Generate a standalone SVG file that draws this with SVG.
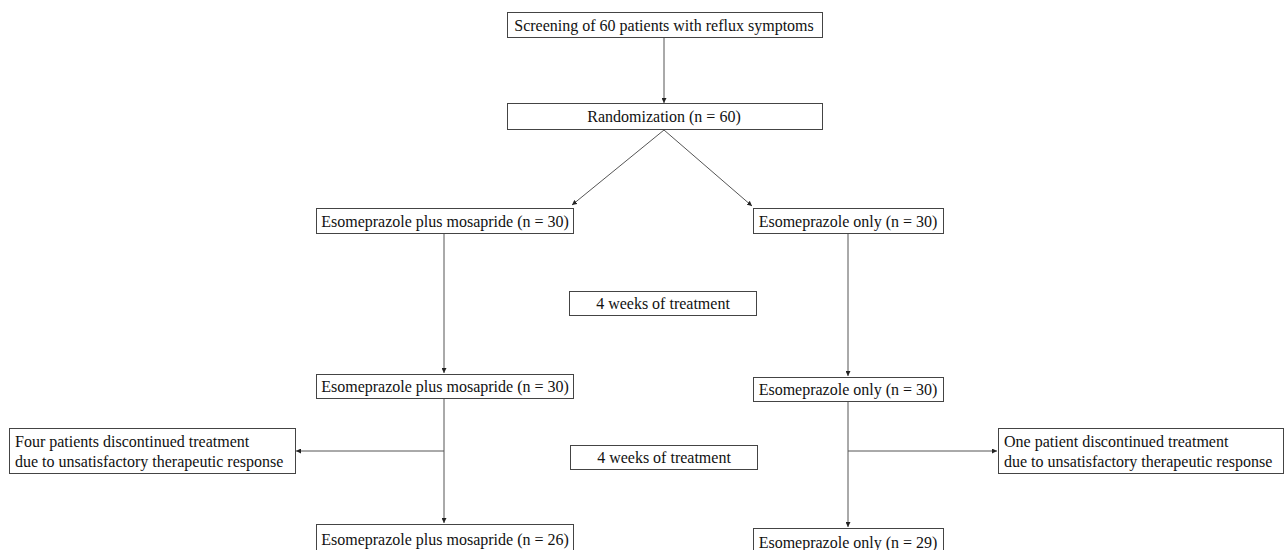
<svg xmlns="http://www.w3.org/2000/svg" width="1284" height="550" viewBox="0 0 1284 550">
<defs>
<marker id="ah" viewBox="0 0 6 6" refX="6" refY="3" markerWidth="5" markerHeight="5" orient="auto" markerUnits="userSpaceOnUse">
<path d="M0,0 L6,3 L0,6 Z" fill="#222"/>
</marker>
<style>
.box{fill:#fff;stroke:#444;stroke-width:1}
.t{font-family:"Liberation Serif","Times New Roman",serif;font-size:16px;fill:#111}
.c{text-anchor:middle}
.ln{stroke:#555;stroke-width:1;fill:none;marker-end:url(#ah)}
</style>
</defs>
<rect width="1284" height="550" fill="#fff"/>
<g id="connectors">
<line class="ln" x1="664" y1="37" x2="664" y2="103"/>
<line class="ln" x1="664" y1="130" x2="572" y2="205"/>
<line class="ln" x1="664" y1="130" x2="752" y2="206"/>
<line class="ln" x1="444" y1="233" x2="444" y2="373"/>
<line class="ln" x1="848" y1="233" x2="848" y2="376"/>
<line class="ln" x1="444" y1="398" x2="444" y2="523"/>
<line class="ln" x1="444" y1="451" x2="296" y2="451"/>
<line class="ln" x1="848" y1="401" x2="848" y2="527"/>
<line class="ln" x1="848" y1="451" x2="997" y2="451"/>
</g>
<g id="screening">
<rect class="box" x="507.5" y="12.5" width="315" height="25"/>
<text class="t c" x="664" y="31">Screening of 60 patients with reflux symptoms</text>
</g>
<g id="randomization">
<rect class="box" x="507.5" y="103.5" width="315" height="26"/>
<text class="t c" x="664" y="122">Randomization (n = 60)</text>
</g>
<g id="combo1">
<rect class="box" x="316.5" y="208.5" width="257" height="25"/>
<text class="t c" x="445" y="227">Esomeprazole plus mosapride (n = 30)</text>
</g>
<g id="only1">
<rect class="box" x="753.5" y="208.5" width="190" height="25"/>
<text class="t c" x="848" y="227">Esomeprazole only (n = 30)</text>
</g>
<g id="weeks1">
<rect class="box" x="569.5" y="291.5" width="187" height="24"/>
<text class="t c" x="663" y="309">4 weeks of treatment</text>
</g>
<g id="combo2">
<rect class="box" x="316.5" y="374.5" width="257" height="24"/>
<text class="t c" x="445" y="392">Esomeprazole plus mosapride (n = 30)</text>
</g>
<g id="only2">
<rect class="box" x="753.5" y="377.5" width="190" height="24"/>
<text class="t c" x="848" y="395">Esomeprazole only (n = 30)</text>
</g>
<g id="discontinue-left">
<rect class="box" x="9.5" y="428.5" width="286" height="45"/>
<text class="t" x="15" y="447">Four patients discontinued treatment</text>
<text class="t" x="15" y="467">due to unsatisfactory therapeutic response</text>
</g>
<g id="weeks2">
<rect class="box" x="570.5" y="445.5" width="187" height="24"/>
<text class="t c" x="664" y="463">4 weeks of treatment</text>
</g>
<g id="discontinue-right">
<rect class="box" x="998.5" y="428.5" width="285" height="45"/>
<text class="t" x="1004" y="447">One patient discontinued treatment</text>
<text class="t" x="1004" y="467">due to unsatisfactory therapeutic response</text>
</g>
<g id="combo3">
<rect class="box" x="316.5" y="524.5" width="257" height="30"/>
<text class="t c" x="445" y="545">Esomeprazole plus mosapride (n = 26)</text>
</g>
<g id="only3">
<rect class="box" x="753.5" y="528.5" width="190" height="30"/>
<text class="t c" x="848" y="548">Esomeprazole only (n = 29)</text>
</g>
</svg>
